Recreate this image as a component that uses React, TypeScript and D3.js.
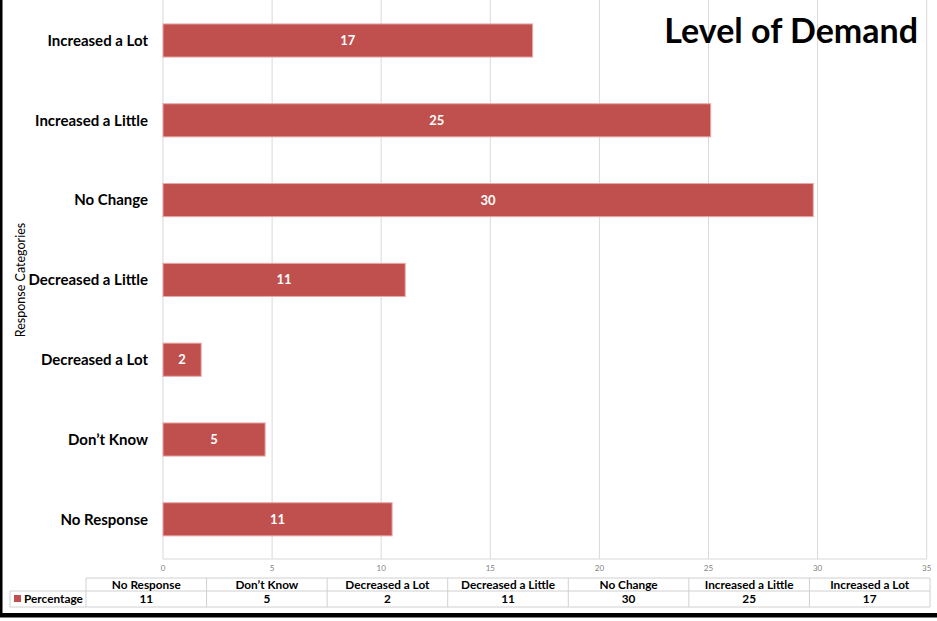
import React from "react";
import * as d3 from "d3";

const categories = [
  "Increased a Lot",
  "Increased a Little",
  "No Change",
  "Decreased a Little",
  "Decreased a Lot",
  "Don\u2019t Know",
  "No Response",
];
const values = [16.94, 25.1, 29.8, 11.1, 1.75, 4.68, 10.5];
const labels = ["17", "25", "30", "11", "2", "5", "11"];
const xTicks = [0, 5, 10, 15, 20, 25, 30, 35];
const tableOrder = [
  "No Response",
  "Don\u2019t Know",
  "Decreased a Lot",
  "Decreased a Little",
  "No Change",
  "Increased a Little",
  "Increased a Lot",
];
const seriesName = "Percentage";
const title = "Level of Demand";
const yTitle = "Response Categories";

const W = 937;
const H = 621;
const FONT = "Lato, 'Open Sans', sans-serif";
const RED = "#C0504D";

export default function App() {
  const x = d3.scaleLinear().domain([0, 35]).range([163, 926.7]);
  const y = d3
    .scaleBand<string>()
    .domain(categories)
    .range([0.6, 559.2])
    .paddingInner(0.585)
    .paddingOuter(0.2925);

  const tblX = d3.scaleBand<string>().domain(tableOrder).range([86, 930]);
  const tblTop = 578;
  const tblMid = 591;
  const tblBot = 607;

  return (
    <svg
      width={W}
      height={H}
      style={{ position: "absolute", left: 0, top: 0, background: "#fff" }}
      fontFamily={FONT}
    >
      <rect x={0} y={0} width={W} height={H} fill="#fff" />
      {/* gridlines */}
      {xTicks.map((t) => (
        <line
          key={"g" + t}
          x1={x(t)}
          x2={x(t)}
          y1={0}
          y2={559}
          stroke="#d9d9d9"
          strokeWidth={1}
        />
      ))}
      <line x1={x(0)} x2={x(35)} y1={559} y2={559} stroke="#d9d9d9" />
      {/* bars */}
      {categories.map((c, i) => (
        <g key={c}>
          <rect
            x={x(0)}
            y={y(c)!}
            width={x(values[i]) - x(0)}
            height={y.bandwidth()}
            fill={RED}
            stroke="#e8a9a7"
            strokeWidth={1}
          />
          <text
            x={(x(0) + x(values[i])) / 2}
            y={y(c)! + y.bandwidth() / 2}
            dy="0.35em"
            textAnchor="middle"
            fill="#fff"
            fontWeight={700}
            fontSize={13}
          >
            {labels[i]}
          </text>
          <text
            x={148}
            y={y(c)! + y.bandwidth() / 2}
            dy="0.35em"
            textAnchor="end"
            fill="#000"
            fontWeight={700}
            fontSize={15}
          >
            {c}
          </text>
        </g>
      ))}
      {/* tick labels */}
      {xTicks.map((t) => (
        <text
          key={"t" + t}
          x={x(t)}
          y={568}
          dy="0.35em"
          textAnchor="middle"
          fontSize={8}
          fill="#7f7f7f"
        >
          {t}
        </text>
      ))}
      {/* y title */}
      <text
        transform="translate(21,280) rotate(-90)"
        textAnchor="middle"
        dy="0.35em"
        fontSize={12.5}
        fontWeight={400}
        fill="#000"
      >
        {yTitle}
      </text>
      {/* title */}
      <text
        x={918}
        y={43}
        textAnchor="end"
        fontSize={34}
        fontWeight={700}
        fill="#000"
      >
        {title}
      </text>
      {/* data table */}
      <g stroke="#d0d0d0" strokeWidth={1} fill="none">
        <line x1={86} x2={930} y1={tblTop} y2={tblTop} />
        <line x1={10} x2={930} y1={tblMid} y2={tblMid} />
        <line x1={10} x2={930} y1={tblBot} y2={tblBot} />
        <line x1={10} x2={10} y1={tblMid} y2={tblBot} />
        {tableOrder.map((c) => (
          <line
            key={"v" + c}
            x1={tblX(c)!}
            x2={tblX(c)!}
            y1={tblTop}
            y2={tblBot}
          />
        ))}
        <line x1={930} x2={930} y1={tblTop} y2={tblBot} />
      </g>
      {tableOrder.map((c) => {
        const i = categories.indexOf(c);
        const cx = tblX(c)! + tblX.bandwidth() / 2;
        return (
          <g key={"tc" + c}>
            <text
              x={cx}
              y={(tblTop + tblMid) / 2}
              dy="0.35em"
              textAnchor="middle"
              fontSize={11.8}
              fontWeight={700}
              fill="#000"
            >
              {c}
            </text>
            <text
              x={cx}
              y={(tblMid + tblBot) / 2}
              dy="0.35em"
              textAnchor="middle"
              fontSize={11.8}
              fontWeight={700}
              fill="#000"
            >
              {labels[i]}
            </text>
          </g>
        );
      })}
      <rect x={14} y={595} width={7} height={7} fill={RED} />
      <text
        x={24}
        y={(tblMid + tblBot) / 2}
        dy="0.35em"
        fontSize={11.8}
        fontWeight={700}
        fill="#000"
      >
        {seriesName}
      </text>
      {/* frame */}
      <rect x={0} y={0} width={2.5} height={617} fill="#000" />
      <rect x={0} y={613} width={W} height={4.5} fill="#000" />
    </svg>
  );
}
